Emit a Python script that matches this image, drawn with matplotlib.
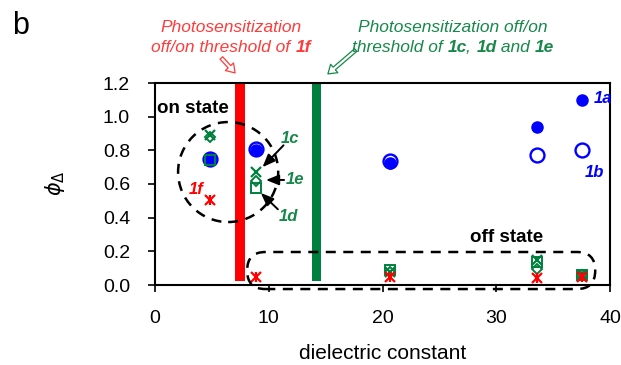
import numpy as np
import matplotlib.pyplot as plt
from matplotlib.patches import Ellipse, FancyBboxPatch

plt.rcParams['font.family'] = ['Liberation Sans', 'DejaVu Sans']

# dielectric constants of the solvents
eps = [4.8, 8.9, 20.7, 33.6, 37.5]

# singlet oxygen quantum yields per compound
phi_1a = [0.75, 0.80, 0.725, 0.94, 1.10]
phi_1b = [0.75, 0.81, 0.735, 0.77, 0.80]
phi_1c = [0.89, 0.67, 0.08, 0.15, 0.06]
phi_1d = [0.74, 0.575, 0.09, 0.135, 0.06]
phi_1e = [0.88, 0.62, 0.08, 0.095, 0.06]
phi_1f = [0.505, 0.05, 0.05, 0.04, 0.05]

# off/on thresholds
thr_1f = 7.5
thr_1cde = 14.2

RED = '#FF0000'
RED_T = '#FF3B3B'
GREEN = '#00803F'
GREEN_T = '#17884A'
BLUE = '#0000FF'

fig = plt.figure(figsize=(6.21, 3.65), dpi=100)
ax = fig.add_axes([155/621, 1-285/365, 455/621, 202/365])

# threshold bars
ax.bar([thr_1f], [1.17], bottom=0.024, width=0.85, color=RED, zorder=2)
ax.bar([thr_1cde], [1.17], bottom=0.024, width=0.85, color=GREEN, zorder=2)

# data
ax.plot(eps, phi_1b, 'o', ms=10, mfc='white', mec=BLUE, mew=1.7, zorder=3)
ax.plot(eps, phi_1a, 'o', ms=8, color=BLUE, zorder=4)
ax.plot(eps, phi_1d, 's', ms=6.5, mfc='none', mec=GREEN, mew=1.4, zorder=5)
ax.plot(eps, phi_1e, 'D', ms=5.5, mfc='none', mec=GREEN, mew=1.4, zorder=5)
ax.plot(eps, phi_1c, 'x', ms=7, color=GREEN, mew=1.6, zorder=5)
ax.plot(eps, phi_1f, 'x', ms=7, color=RED, mew=1.6, zorder=6)
ax.plot(eps, phi_1f, '|', ms=7, color=RED, mew=1.6, zorder=6)

# on / off state outlines
ax.add_patch(Ellipse((6.43, 0.671), 8.8, 0.594, fill=False, ec='black',
                     lw=1.8, ls=(0, (4, 3)), zorder=7))
ax.add_patch(FancyBboxPatch((8.1, -0.024), 30.6, 0.22,
                            boxstyle='round,pad=0,rounding_size=1.6',
                            mutation_aspect=0.068, fill=False, ec='black',
                            lw=1.8, ls=(0, (4, 3)), clip_on=False, zorder=7))

ax.text(0.17, 1.05, 'on state', fontsize=13.5, fontweight='bold', va='center')
ax.text(30.9, 0.28, 'off state', fontsize=13.5, fontweight='bold',
        ha='center', va='center')

lab = dict(fontsize=12, fontweight='bold', style='italic', va='center', ha='center')
ax.text(39.4, 1.105, '1a', color=BLUE, **lab)
ax.text(38.6, 0.671, '1b', color=BLUE, **lab)
ax.text(11.85, 0.873, '1c', color=GREEN_T, **lab)
ax.text(12.3, 0.624, '1e', color=GREEN_T, **lab)
ax.text(11.7, 0.404, '1d', color=GREEN_T, **lab)
ax.text(3.65, 0.565, '1f', color=RED, **lab)

arr = dict(arrowstyle='-|>,head_length=0.55,head_width=0.22', color='black',
           lw=1.4, mutation_scale=14, shrinkA=0, shrinkB=0)
ax.annotate('', xy=(9.45, 0.70), xytext=(11.3, 0.83), arrowprops=arr)
ax.annotate('', xy=(9.75, 0.624), xytext=(11.35, 0.624), arrowprops=arr)
ax.annotate('', xy=(9.3, 0.547), xytext=(10.8, 0.45), arrowprops=arr)

# hollow arrows pointing at the thresholds
ax.annotate('', xy=(7.04, 1.26), xytext=(5.83, 1.349), annotation_clip=False,
            arrowprops=dict(facecolor='white', edgecolor=RED_T, width=2.5,
                            headwidth=8, headlength=6, lw=0.9))
ax.annotate('', xy=(15.2, 1.254), xytext=(17.65, 1.396), annotation_clip=False,
            arrowprops=dict(facecolor='white', edgecolor=GREEN_T, width=2.5,
                            headwidth=8, headlength=6, lw=0.9))

ax.set_xlim(0, 40)
ax.set_ylim(0, 1.2)
ax.set_xticks([0, 10, 20, 30, 40])
ax.set_yticks(np.arange(0, 1.21, 0.2))
ax.set_yticklabels([f'{v:.1f}' for v in np.arange(0, 1.21, 0.2)])
ax.tick_params(labelsize=14, direction='out', length=5, width=1.2)
ax.tick_params(axis='y', pad=13)
ax.tick_params(axis='x', pad=13)
for s in ax.spines.values():
    s.set_linewidth(1.5)
ax.set_xlabel('dielectric constant', fontsize=15, labelpad=12)

fig.text(55/621, 1-183/365, r'$\phi_\Delta$', fontsize=15, rotation=90,
         ha='center', va='center')
fig.text(12/621, 1-26/365, 'b', fontsize=22, va='center')


def rich_line(xc, y, parts, color, size):
    # draw a line of mixed normal/bold italic text centred at xc (fig fraction)
    r = fig.canvas.get_renderer()
    txts = []
    for s, w in parts:
        t = fig.text(0, y, s, color=color, fontsize=size, style='italic',
                     fontweight=w, va='center')
        txts.append(t)
    widths = [t.get_window_extent(r).width / fig.bbox.width for t in txts]
    x = xc - sum(widths) / 2
    for t, w in zip(txts, widths):
        t.set_x(x)
        x += w


rich_line(231/621, 1-28/365, [('Photosensitization', 'normal')], RED_T, 12.5)
rich_line(231/621, 1-48/365, [('off/on threshold of ', 'normal'), ('1f', 'bold')],
          RED_T, 12.5)
rich_line(453/621, 1-28/365, [('Photosensitization off/on', 'normal')], GREEN_T, 12.5)
rich_line(453/621, 1-48/365, [('threshold of ', 'normal'), ('1c', 'bold'),
                              (', ', 'normal'), ('1d', 'bold'),
                              (' and ', 'normal'), ('1e', 'bold')], GREEN_T, 12.5)

fig.savefig('out.png', dpi=100)
